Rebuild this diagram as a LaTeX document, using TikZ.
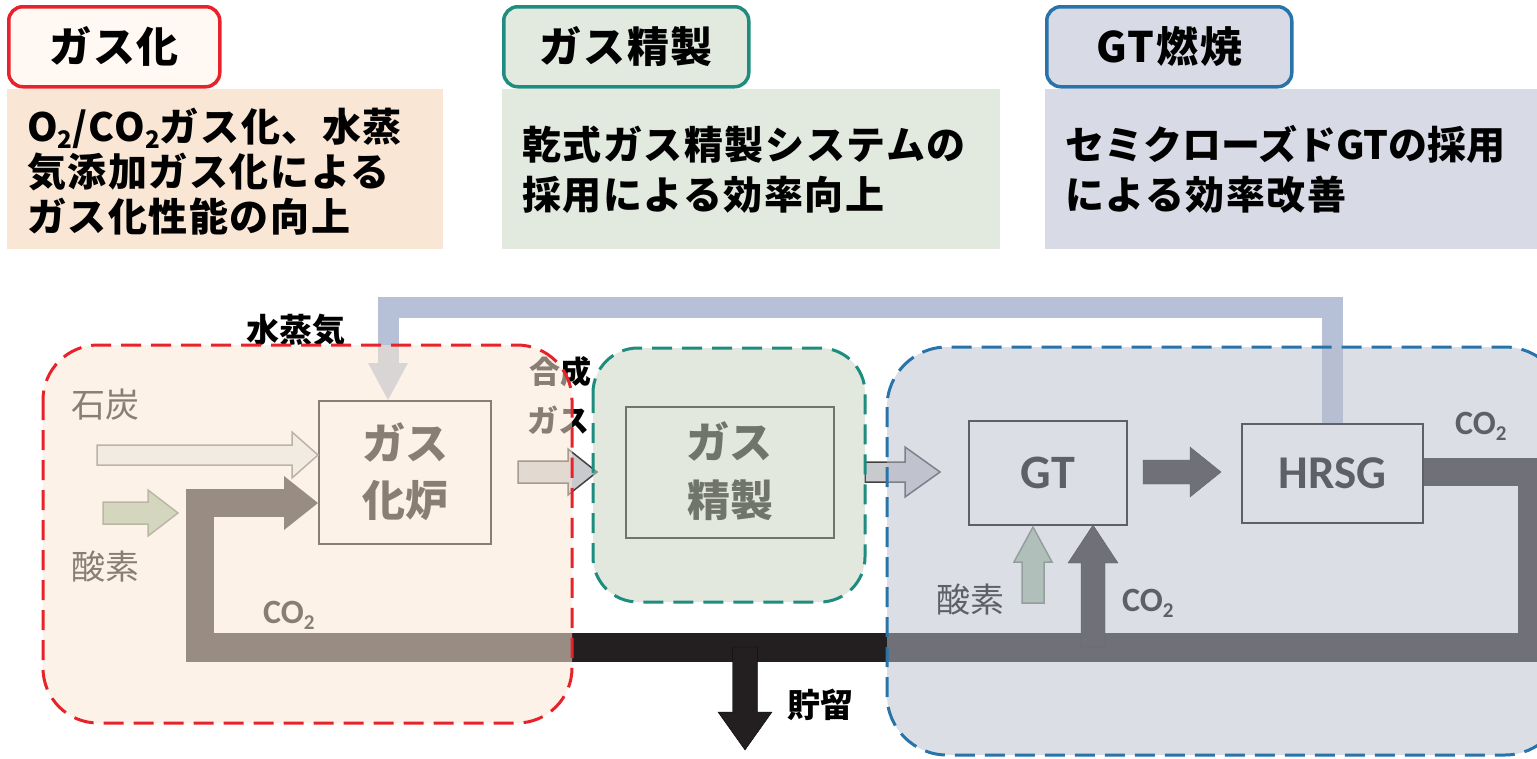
\documentclass[tikz,border=0pt]{standalone}
\usepackage{fontspec}
\setmainfont{Noto Sans CJK JP}
\newfontfamily\calfont{Carlito}
\usetikzlibrary{calc}
\definecolor{redB}{RGB}{232,34,42}
\definecolor{tealB}{RGB}{30,140,126}
\definecolor{blueB}{RGB}{40,115,170}
\definecolor{descA}{RGB}{249,230,213}
\definecolor{descB}{RGB}{226,233,223}
\definecolor{descC}{RGB}{216,219,229}
\definecolor{titleA}{RGB}{255,248,243}
\definecolor{ovA}{RGB}{249,231,213}
\definecolor{ovB}{RGB}{204,213,196}
\definecolor{ovC}{RGB}{186,190,206}
\definecolor{steam}{RGB}{182,192,214}
\definecolor{band}{RGB}{35,31,32}
\definecolor{oxy}{RGB}{167,194,164}
\definecolor{oxyL}{RGB}{110,125,105}
\definecolor{coal}{RGB}{235,240,241}
\definecolor{syn}{RGB}{200,202,206}
\newcommand\fs[1]{\fontsize{#1}{#1}\selectfont}
\newcommand\sub[1]{\raisebox{-0.2em}{\scalebox{0.62}{#1}}}
% horizontal block arrow: style, x1, x2(tip), yc, shaft half, head start, head half
\newcommand\harrow[7]{\draw[#1] (#2,#4-#5) -- (#6,#4-#5) -- (#6,#4-#7) -- (#3,#4) -- (#6,#4+#7) -- (#6,#4+#5) -- (#2,#4+#5) -- cycle;}
% vertical block arrow: style, xc, y1, y2(tip), shaft half, head base, head half
\newcommand\varrow[7]{\draw[#1] (#2-#5,#3) -- (#2-#5,#6) -- (#2-#7,#6) -- (#2,#4) -- (#2+#7,#6) -- (#2+#5,#6) -- (#2+#5,#3) -- cycle;}
\tikzset{
  titlebox/.style={draw, line width=3.5pt, rounded corners=14pt, inner sep=0pt, anchor=north west},
  descbox/.style={inner sep=0pt, anchor=north west},
  desctext/.style={anchor=base west, inner sep=0pt, font=\bfseries\fs{39}\addfontfeature{LetterSpace=4}},
  titletext/.style={inner sep=0pt, font=\bfseries\fs{42}\addfontfeature{LetterSpace=4}},
  unit/.style={draw=black, line width=2pt, inner sep=0pt, anchor=north west},
  lbl/.style={inner sep=0pt, font=\fs{34}},
  co/.style={inner sep=0pt, anchor=base west, font=\calfont\bfseries\fs{34}},
  dashline/.style={line width=3pt, dash pattern=on 20pt off 10pt},
}
\begin{document}
\begin{tikzpicture}[x=1pt,y=-1pt,line join=miter]
\useasboundingbox (0,0) rectangle (1537,758);
% ---------- top panels ----------
\node (d1) [descbox, fill=descA, minimum width=436pt, minimum height=160pt] at (7,89) {};
\node (d2) [descbox, fill=descB, minimum width=498pt, minimum height=160pt] at (502,89) {};
\node (d3) [descbox, fill=descC, minimum width=492pt, minimum height=160pt] at (1045,89) {};
\node (t1) [titlebox, draw=redB, fill=titleA, minimum width=211pt, minimum height=80pt] at (7,5) {};
\node (t2) [titlebox, draw=tealB, fill=descB, minimum width=245pt, minimum height=80pt] at (502,5) {};
\node (t3) [titlebox, draw=blueB, fill=descC, minimum width=245pt, minimum height=80pt] at (1045,5) {};
\node (t1t) [titletext] at (t1.center) {ガス化};
\node (t2t) [titletext] at (t2.center) {ガス精製};
\node (t3t) [titletext] at (t3.center) {GT燃焼};
\node (d1a) [desctext] at (27,141) {O\sub{2}/CO\sub{2}ガス化、水蒸};
\node (d1b) [desctext] at (27,186) {気添加ガス化による};
\node (d1c) [desctext] at (27,231) {ガス化性能の向上};
\node (d2a) [desctext] at (522,159) {乾式ガス精製システムの};
\node (d2b) [desctext] at (522,209) {採用による効率向上};
\node (d3a) [desctext, font=\bfseries\fs{39}] at (1065,159) {セミクローズドGTの採用};
\node (d3b) [desctext] at (1065,209) {による効率改善};
% ---------- units ----------
\node (gas) [unit, minimum width=172pt, minimum height=143pt] at (318,400) {};
\node (pur) [unit, minimum width=208pt, minimum height=131pt] at (625,406) {};
\node (gt) [unit, minimum width=158pt, minimum height=104pt] at (968,420) {};
\node (hrsg) [unit, minimum width=181pt, minimum height=99pt] at (1241,423) {};
\node (gasa) [lbl, font=\bfseries\fs{43}] at (405,442) {ガス};
\node (gasb) [lbl, font=\bfseries\fs{43}] at (405,500) {化炉};
\node (pura) [lbl, font=\bfseries\fs{43}] at (729,441) {ガス};
\node (purb) [lbl, font=\bfseries\fs{43}] at (730,500) {精製};
\node (gtt) [lbl, font=\calfont\bfseries\fs{48}] at (gt.center) {GT};
\node (hrsgt) [lbl, font=\calfont\bfseries\fs{47}] at (hrsg.center) {HRSG};
% ---------- steam line ----------
\coordinate (s1) at (388,365);
\draw[steam, line width=21pt] (hrsg.north) -- (hrsg.north |- 0,307) -- (s1 |- 0,307) -- (s1);
\fill[steam] (368,363) -- (408,363) -- (gas.north -| s1) -- cycle;
% ---------- CO2 loop ----------
\coordinate (c1) at (1532,472);
\coordinate (c2) at (1532,647.5);
\coordinate (c3) at (200,647.5);
\coordinate (c4) at (200,503);
\coordinate (c5) at (285,503);
\draw[band, line width=28.5pt] (hrsg.east |- c1) -- (c1) -- (c2) -- (c3) -- (c4) -- (c5);
\fill[band] (284,476) -- (gas.west |- 0,503) -- (284,530) -- cycle;
\varrow{fill=band}{1093}{647}{525}{12}{563}{25}
\varrow{fill=band}{745}{647}{750}{12.5}{712}{27}
\harrow{fill=band}{1143}{1221}{472}{12}{1190}{25}
% ---------- feed arrows ----------
\harrow{fill=coal, draw=black!55, line width=1.5pt}{97}{318}{455}{10}{292}{23}
\harrow{fill=oxy, draw=oxyL, line width=1.5pt}{103}{178}{513}{11}{148}{23}
\harrow{fill=syn, draw=black!75, line width=1.5pt}{518}{597}{472}{11}{568}{23}
\harrow{fill=syn, draw=black!75, line width=1.5pt}{865}{940}{472}{10}{905}{25}
\varrow{fill=oxy, draw=oxyL, line width=1.5pt}{1033}{603}{527}{11}{562}{19}
% ---------- labels ----------
\node (steamL) [lbl, font=\bfseries\fs{33}] at (296,330) {水蒸気};
\node (coalL) [lbl] at (105,405) {石炭};
\node (oxL) [lbl] at (105,567) {酸素};
\node (synA) [lbl, font=\bfseries\fs{31}] at (560,372) {合成};
\node (synB) [lbl, font=\bfseries\fs{31}] at (558,420) {ガス};
\node (co2a) [co] at (263,623) {CO\sub{2}};
\node (co2b) [co] at (1122,611) {CO\sub{2}};
\node (co2c) [co] at (1455,434) {CO\sub{2}};
\node (oxL2) [lbl] at (970,600) {酸素};
\node (stoL) [lbl, font=\bfseries\fs{33}] at (820,705) {貯留};
% ---------- region overlays ----------
\fill[ovA, fill opacity=0.55, rounded corners=55pt] (43,345) rectangle (572,723);
\fill[ovB, fill opacity=0.55, rounded corners=45pt] (593,348) rectangle (865,602);
\fill[ovC, fill opacity=0.51, rounded corners=60pt] (887,347) rectangle (1565,755);
\draw[redB, dashline, rounded corners=55pt] (43,345) rectangle (572,723);
\draw[tealB, dashline, rounded corners=45pt] (593,348) rectangle (865,602);
\draw[blueB, dashline, rounded corners=60pt] (887,347) rectangle (1565,755);
\end{tikzpicture}
\end{document}
